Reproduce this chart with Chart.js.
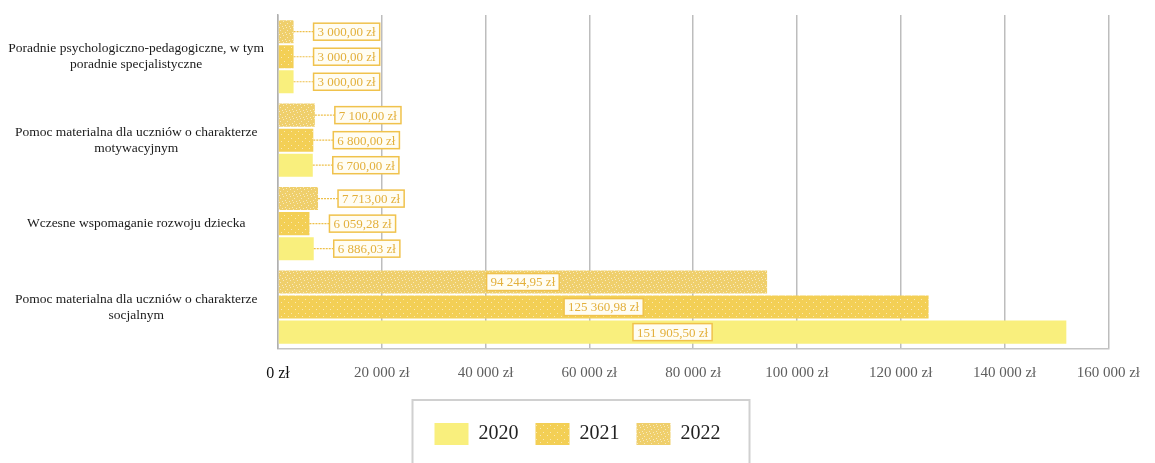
<!DOCTYPE html>
<html>
<head>
<meta charset="utf-8">
<script src="https://cdn.jsdelivr.net/npm/chart.js@4"></script>
<style>
  html, body { margin: 0; padding: 0; background: #fff; }
  #wrap { width: 1155px; height: 463px; }
</style>
</head>
<body>
<div id="wrap"><canvas id="chart"></canvas></div>
<script>
// kategorie (od góry) i wartości z wykresu
const categories = [
    ['Poradnie psychologiczno-pedagogiczne, w tym', 'poradnie specjalistyczne'],
    ['Pomoc materialna dla uczniów o charakterze', 'motywacyjnym'],
    ['Wczesne wspomaganie rozwoju dziecka'],
    ['Pomoc materialna dla uczniów o charakterze', 'socjalnym']
];
const values2022 = [3000.00, 7100.00, 7713.00, 94244.95];
const values2021 = [3000.00, 6800.00, 6059.28, 125360.98];
const values2020 = [3000.00, 6700.00, 6886.03, 151905.50];
const xTicks = [0, 20000, 40000, 60000, 80000, 100000, 120000, 140000, 160000];

function groupThousands(s) {
    return s.replace(/\B(?=(\d{3})+(?!\d))/g, ' ');
}
function zl(v) {
    return groupThousands(String(Math.round(v))) + ' zł';
}
function money(v) {
    const parts = v.toFixed(2).split('.');
    return groupThousands(parts[0]) + ',' + parts[1] + ' zł';
}

// nakrapiana faktura jak na skanie
function speckle(base, dots) {
    const c = document.createElement('canvas');
    c.width = 7; c.height = 7;
    const g = c.getContext('2d');
    g.fillStyle = base;
    g.fillRect(0, 0, 7, 7);
    g.fillStyle = 'rgba(255,255,255,0.55)';
    dots.forEach(d => g.fillRect(d[0], d[1], 1, 1));
    return g.createPattern(c, 'repeat');
}

const fill2020 = '#f9ef7d';
const fill2021 = speckle('#f3cf55', [[1, 1], [4, 5]]);
const fill2022 = speckle('#efcf6c', [[0, 2], [3, 0], [5, 4], [2, 5], [6, 6]]);

const valueBoxes = {
    id: 'valueBoxes',
    afterDatasetsDraw(chart) {
        const ctx = chart.ctx;
        ctx.save();
        ctx.font = '13px "Liberation Serif"';
        ctx.textAlign = 'center';
        ctx.textBaseline = 'middle';
        chart.data.datasets.forEach((ds, di) => {
            chart.getDatasetMeta(di).data.forEach((bar, i) => {
                const text = money(ds.data[i]);
                const w = ctx.measureText(text).width + 8;
                const h = 17;
                const len = bar.x - bar.base;
                let bx;
                if (len > w + 60) {
                    bx = (bar.base + bar.x) / 2 - w / 2;
                } else {
                    bx = bar.x + 20;
                    ctx.strokeStyle = '#eec04a';
                    ctx.lineWidth = 1.2;
                    ctx.setLineDash([2, 1]);
                    ctx.beginPath();
                    ctx.moveTo(bar.x, bar.y);
                    ctx.lineTo(bx, bar.y);
                    ctx.stroke();
                    ctx.setLineDash([]);
                }
                const by = bar.y - h / 2;
                ctx.fillStyle = '#fffdf3';
                ctx.fillRect(bx, by, w, h);
                ctx.strokeStyle = '#f0c24c';
                ctx.lineWidth = 1.5;
                ctx.strokeRect(bx, by, w, h);
                ctx.fillStyle = '#e3b03c';
                ctx.fillText(text, bx + w / 2, bar.y + 1);
            });
        });
        ctx.restore();
    }
};

// legenda przesunięta w prawo + ramka wokół niej
const legendShift = 21;
const legendFrame = {
    id: 'legendFrame',
    afterLayout(chart) {
        chart.legend.left += legendShift;
        chart.legend.right += legendShift;
    },
    afterDraw(chart) {
        const hb = chart.legend.legendHitBoxes;
        if (!hb || !hb.length) return;
        const last = hb[hb.length - 1];
        const ctx = chart.ctx;
        ctx.save();
        ctx.strokeStyle = '#d0d0d0';
        ctx.lineWidth = 2;
        const left = hb[0].left - 22;
        const right = last.left + last.width + 29;
        const top = hb[0].top - 23;
        ctx.strokeRect(left, top, right - left, 100);
        ctx.restore();
    }
};

new Chart(document.getElementById('chart'), {
    type: 'bar',
    data: {
        labels: categories,
        datasets: [
            { label: '2022', data: values2022, backgroundColor: fill2022 },
            { label: '2021', data: values2021, backgroundColor: fill2021 },
            { label: '2020', data: values2020, backgroundColor: fill2020 }
        ]
    },
    options: {
        indexAxis: 'y',
        responsive: true,
        maintainAspectRatio: false,
        animation: false,
        categoryPercentage: 0.9,
        barPercentage: 0.92,
        layout: { autoPadding: false, padding: { top: 15, right: 42, left: 0, bottom: 8 } },
        plugins: {
            legend: {
                position: 'bottom',
                reverse: true,
                labels: {
                    boxWidth: 34,
                    boxHeight: 22,
                    padding: 17,
                    color: '#222',
                    font: { family: 'Liberation Serif', size: 20 }
                }
            },
            tooltip: { enabled: false }
        },
        scales: {
            x: {
                min: 0,
                max: 160000,
                afterBuildTicks: s => { s.ticks = xTicks.map(v => ({ value: v })); },
                afterFit: s => { s.height += 8; },
                grid: { color: '#bdbdbd', lineWidth: 1.5, drawTicks: false },
                border: { display: true, color: '#c4c4c4', width: 1.5 },
                ticks: {
                    padding: 15,
                    callback: v => zl(v),
                    color: c => (c.tick && c.tick.value === 0) ? '#111' : '#5e5e5e',
                    font: c => ({ family: 'Liberation Serif', size: (c.tick && c.tick.value === 0) ? 16 : 15 })
                }
            },
            y: {
                grid: { display: false },
                border: { color: '#b0b0b0', width: 1.5 },
                afterFit: s => { s.width = 278; s.paddingTop = 0; s.paddingBottom = 0; },
                ticks: {
                    crossAlign: 'center',
                    padding: 6,
                    color: '#1a1a1a',
                    font: { family: 'Liberation Serif', size: 13.5 }
                }
            }
        }
    },
    plugins: [valueBoxes, legendFrame]
});
</script>
</body>
</html>
